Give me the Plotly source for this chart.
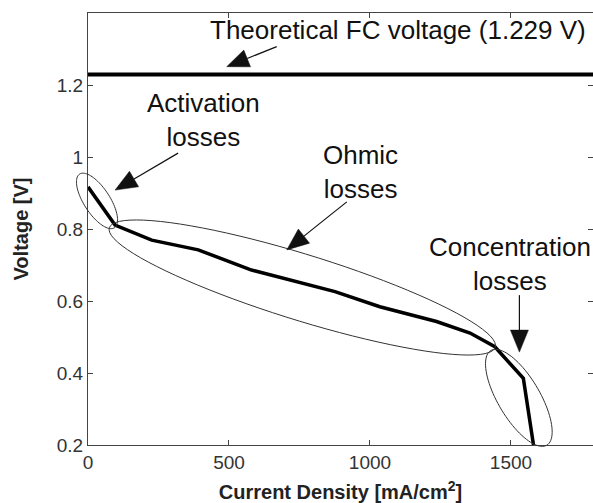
import math
import plotly.graph_objects as go

# ---------------- data ----------------
current_density = [0, 96, 226, 391, 580, 876, 1035, 1236, 1355, 1443, 1544, 1580]
voltage = [0.917, 0.811, 0.769, 0.742, 0.686, 0.626, 0.584, 0.543, 0.511, 0.473, 0.385, 0.200]
theoretical_v = 1.229

x_tickvals = [0, 500, 1000, 1500]
x_ticktext = ["0", "500", "1000", "1500"]
y_tickvals = [0.2, 0.4, 0.6, 0.8, 1.0, 1.2]
y_ticktext = ["0.2", "0.4", "0.6", "0.8", "1", "1.2"]

x_range = [0, 1791]
y_range = [0.2, 1.4]

# ---------------- layout geometry ----------------
W, H = 593, 503
M_L, M_R, M_T, M_B = 88, 0, 13, 58
PW = W - M_L - M_R
PH = H - M_T - M_B

FONT = "Liberation Sans, Arial, Helvetica, sans-serif"


def d2px(x, y):
    px = M_L + (x - x_range[0]) / (x_range[1] - x_range[0]) * PW
    py = M_T + (y_range[1] - y) / (y_range[1] - y_range[0]) * PH
    return px, py


def px2paper(px, py):
    return (px - M_L) / PW, (M_T + PH - py) / PH


def ellipse_path(cx, cy, a, b, ang_deg, n=90):
    pcx, pcy = d2px(cx, cy)
    th = math.radians(ang_deg)
    pts = []
    for i in range(n + 1):
        t = 2 * math.pi * i / n
        px = pcx + a * math.cos(t) * math.cos(th) - b * math.sin(t) * math.sin(th)
        py = pcy + a * math.cos(t) * math.sin(th) + b * math.sin(t) * math.cos(th)
        xp, yp = px2paper(px, py)
        pts.append(f"{xp:.5f},{yp:.5f}")
    return "M" + " L".join(pts) + " Z"


def arrow_shapes(x, y, ax, ay, head_len=22, head_half=9, color="#111111"):
    tx, ty = d2px(x, y)
    sx, sy = tx + ax, ty + ay
    dx, dy = tx - sx, ty - sy
    ln = math.hypot(dx, dy)
    ux, uy = dx / ln, dy / ln
    nx, ny = -uy, ux
    bx, by = tx - head_len * ux, ty - head_len * uy
    p_tip = px2paper(tx, ty)
    p_b1 = px2paper(bx + head_half * nx, by + head_half * ny)
    p_b2 = px2paper(bx - head_half * nx, by - head_half * ny)
    p_s = px2paper(sx, sy)
    p_b = px2paper(bx, by)
    shaft = dict(type="line", xref="paper", yref="paper",
                 x0=p_s[0], y0=p_s[1], x1=p_b[0], y1=p_b[1],
                 line=dict(color=color, width=1.2))
    head = dict(type="path", xref="paper", yref="paper",
                path=(f"M{p_tip[0]:.5f},{p_tip[1]:.5f} L{p_b1[0]:.5f},{p_b1[1]:.5f} "
                      f"L{p_b2[0]:.5f},{p_b2[1]:.5f} Z"),
                fillcolor=color, line=dict(color=color, width=0.5))
    return [shaft, head]


# ellipse specs: centre (data), semi-axes (px), angle (deg, screen)
ellipses = [
    (32, 0.878, 32, 13, 57),       # activation
    (760, 0.6375, 202, 33, 17.2),  # ohmic
    (1528, 0.331, 55, 21, 59.4),   # concentration
]

# arrow specs: tip (data), tail offset (px)
arrows = [
    (492, 1.251, 50, -20),
    (96, 0.908, 63, -37),
    (705, 0.742, 60, -48),
    (1530, 0.458, 0, -57),
]

fig = go.Figure()

fig.add_trace(go.Scatter(
    x=[x_range[0], x_range[1]], y=[theoretical_v, theoretical_v],
    mode="lines", line=dict(color="black", width=4),
    showlegend=False, hoverinfo="skip"))

fig.add_trace(go.Scatter(
    x=current_density, y=voltage, mode="lines",
    line=dict(color="black", width=3.5),
    showlegend=False))

shapes = []
for (cx, cy, a, b, ang) in ellipses:
    shapes.append(dict(type="path", xref="paper", yref="paper",
                       path=ellipse_path(cx, cy, a, b, ang),
                       line=dict(color="#333333", width=1)))
for (x, y, ax, ay) in arrows:
    shapes.extend(arrow_shapes(x, y, ax, ay))

text_font = dict(family=FONT, size=26, color="#111111")
annotations = [
    dict(x=1101, y=1.353, text="Theoretical FC voltage (1.229 V)", showarrow=False,
         font=text_font, xanchor="center", yanchor="middle"),
    dict(x=408, y=1.103, text="Activation<br>losses", showarrow=False,
         font=text_font, xanchor="center", yanchor="middle"),
    dict(x=965, y=0.958, text="Ohmic<br>losses", showarrow=False,
         font=text_font, xanchor="center", yanchor="middle"),
    dict(x=1496, y=0.703, text="Concentration<br>losses", showarrow=False,
         font=text_font, xanchor="center", yanchor="middle"),
]

axis_common = dict(showline=True, linecolor="#444444", linewidth=1, mirror="ticks",
                   ticks="inside", ticklen=5, tickcolor="#444444", showgrid=False,
                   zeroline=False, tickfont=dict(family=FONT, size=19, color="#333333"))

fig.update_layout(
    width=W, height=H,
    margin=dict(l=M_L, r=M_R, t=M_T, b=M_B, autoexpand=False),
    paper_bgcolor="white", plot_bgcolor="white",
    font=dict(family=FONT),
    shapes=shapes, annotations=annotations,
    xaxis=dict(range=x_range, tickvals=x_tickvals, ticktext=x_ticktext,
               title=dict(text="<b>Current Density [mA/cm<sup>2</sup>]</b>",
                          font=dict(family=FONT, size=20, color="#222222"), standoff=14),
               automargin=False, **axis_common),
    yaxis=dict(range=y_range, tickvals=y_tickvals, ticktext=y_ticktext,
               title=dict(text="<b>Voltage [V]</b>",
                          font=dict(family=FONT, size=20, color="#222222"), standoff=22),
               automargin=False, **axis_common),
)

fig.write_html("out.html", config={"displayModeBar": False},
               post_script="document.body.style.margin='0';document.body.style.padding='0';")
